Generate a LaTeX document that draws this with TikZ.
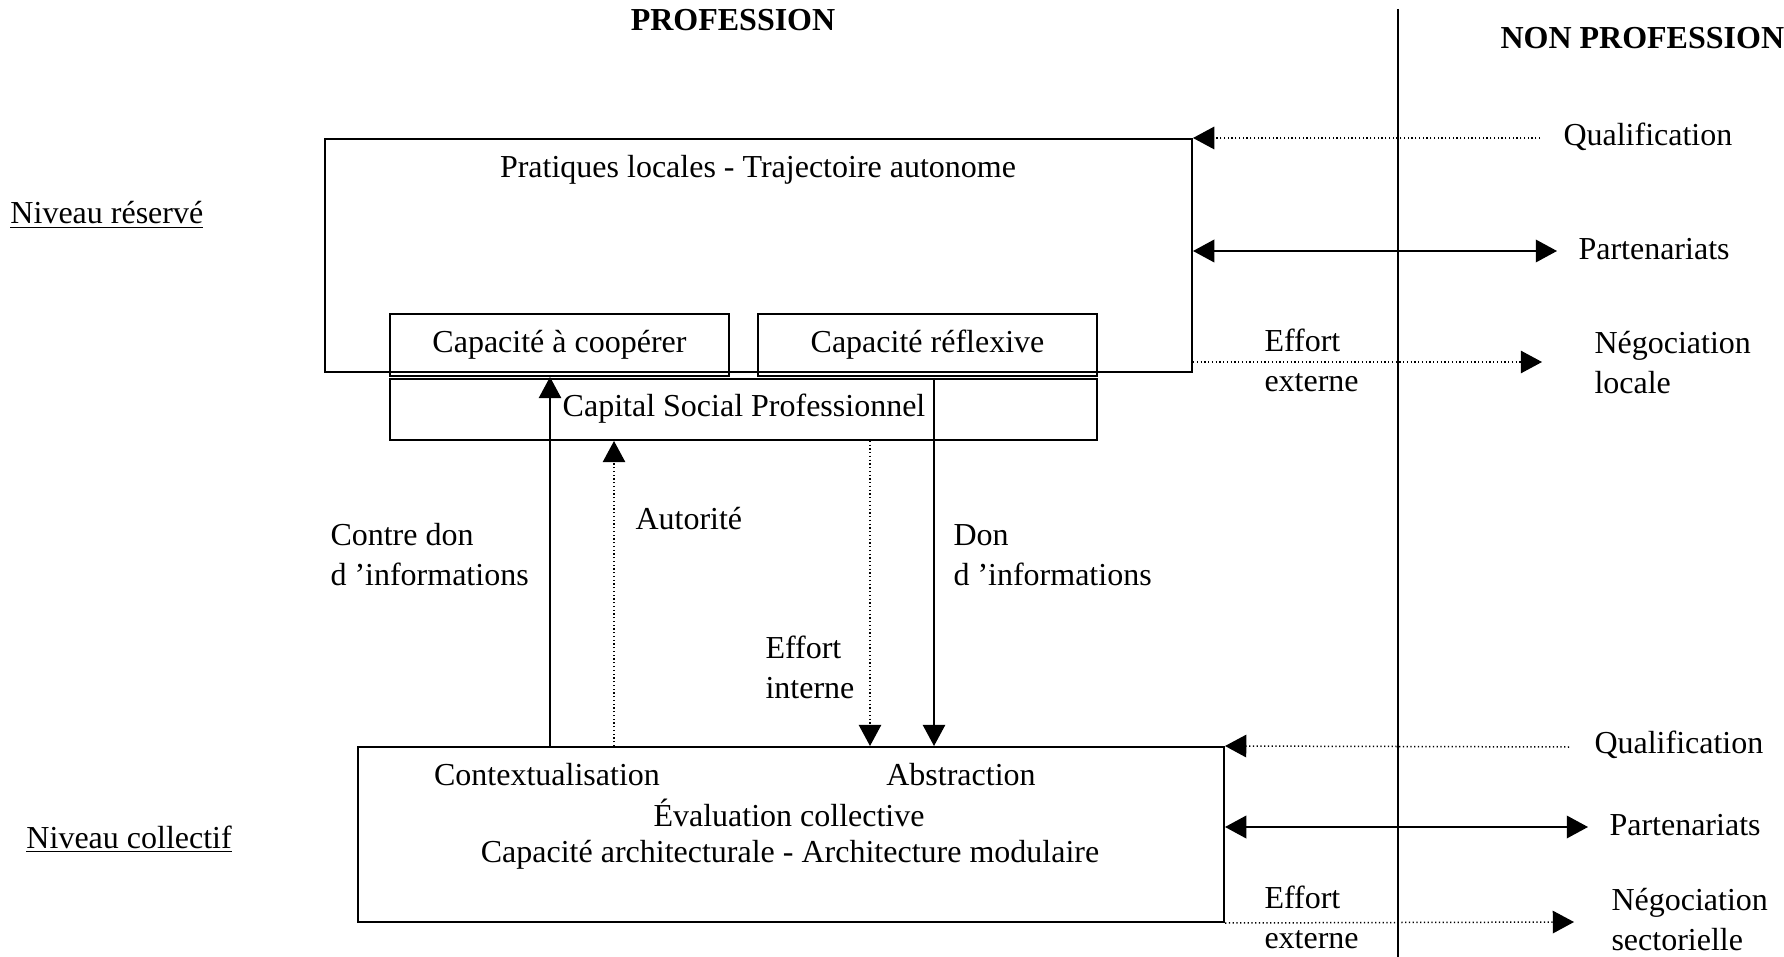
\documentclass[tikz,border=0pt]{standalone}
\usepackage{fontspec}
\setmainfont{Liberation Serif}
\usetikzlibrary{arrows.meta,fit}

\tikzset{
  box/.style={draw, line width=0.8pt, inner sep=0pt},
  txt/.style={inner sep=0pt, anchor=west, font=\fontsize{12.8}{16}\selectfont, align=left},
  ctxt/.style={inner sep=0pt, anchor=center, font=\fontsize{12.8}{16}\selectfont},
  head/.style={inner sep=0pt, font=\fontsize{12.8}{16}\selectfont\bfseries},
  tip/.style={-{Triangle[length=8.5pt,width=9pt]}},
  solidarr/.style={tip, line width=0.6pt},
  dotarr/.style={tip, line width=0.6pt, dash pattern=on 0.5pt off 1pt},
  twoarr/.style={{Triangle[length=8.5pt,width=9pt]}-{Triangle[length=8.5pt,width=9pt]}, line width=0.8pt},
  divider/.style={line width=0.8pt}
}

\begin{document}
\begin{tikzpicture}[x=0.4pt,y=-0.4pt]
\useasboundingbox (0,0) rectangle (1784,957);

% column headings and the divider between the two domains
\node[head] (prof) at (733,20) {PROFESSION};
\node[head, anchor=west] (nonprof) at (1500,38) {NON PROFESSION};
\coordinate (divtop) at (1398,9);
\coordinate (divbot) at (1398,957);
\draw[divider] (divtop) -- (divbot);

% level labels
\node[txt, anchor=base west] (nres) at (10,224) {\underline{Niveau réservé}};
\node[txt, anchor=base west] (ncol) at (26,848) {\underline{Niveau collectif}};

% reserved level: local practices and the two capacities
\coordinate (p1) at (325,139); \coordinate (p2) at (1192,372);
\node[box, fit=(p1)(p2)] (prat) {};
\node[ctxt] (pratlbl) at (758,170) {Pratiques locales - Trajectoire autonome};

\coordinate (c1) at (390,314); \coordinate (c2) at (729,376);
\node[box, fit=(c1)(c2)] (coop) {};
\node[ctxt] at (coop.center) {Capacité à coopérer};

\coordinate (r1) at (758,314); \coordinate (r2) at (1097,376);
\node[box, fit=(r1)(r2)] (refl) {};
\node[ctxt] at (refl.center) {Capacité réflexive};

\coordinate (s1) at (390,379); \coordinate (s2) at (1097,440);
\node[box, fit=(s1)(s2)] (capital) {};
\node[ctxt] (caplbl) at (744,409) {Capital Social Professionnel};

% collective level
\coordinate (l1) at (358,747); \coordinate (l2) at (1224,922);
\node[box, fit=(l1)(l2)] (coll) {};
\node[ctxt] (ctx) at (547,775) {Contextualisation};
\node[ctxt] (abs) at (961,775) {Abstraction};
\node[ctxt] (eval) at (789,813) {Évaluation collective};
\node[ctxt] (archi) at (790,855) {Capacité architecturale - Architecture modulaire};

% vertical exchanges between the two levels
\coordinate (xcd) at (550,0);
\coordinate (xau) at (614,0);
\coordinate (xei) at (870,0);
\coordinate (xdon) at (934,0);
\draw[solidarr] (coll.north -| xcd) -- (coop.south -| xcd);
\draw[dotarr] (coll.north -| xau) -- (capital.south -| xau);
\draw[dotarr] (capital.south -| xei) -- (coll.north -| xei);
\draw[solidarr] (capital.north -| xdon) -- (coll.north -| xdon);

\node[txt] (lcd) at (330,555) {Contre don\\d ’informations};
\node[txt] (lau) at (635,519) {Autorité};
\node[txt] (ldon) at (953,555) {Don\\d ’informations};
\node[txt] (lei) at (765,667) {Effort\\interne};

% exchanges with the outside, reserved level
\coordinate (qa) at (1540,138);
\coordinate (pa) at (1557,251);
\coordinate (ea) at (1542,362);
\draw[dotarr] (qa) -- (prat.north east);
\draw[twoarr] (prat.east |- pa) -- (pa);
\draw[dotarr] (prat.east |- ea) -- (ea);
\node[txt] (qla) at (1563,137) {Qualification};
\node[txt] (pla) at (1578,249) {Partenariats};
\node[txt] (ela) at (1264,360) {Effort\\externe};
\node[txt] (nla) at (1594,363) {Négociation\\locale};

% exchanges with the outside, collective level
\coordinate (qb) at (1569,747);
\coordinate (pb) at (1588,827);
\coordinate (eb) at (1574,922);
\draw[dotarr] (qb) -- (coll.north east);
\draw[twoarr] (coll.east |- pb) -- (pb);
\draw[dotarr] (coll.south east) -- (eb);
\node[txt] (qlb) at (1594,745) {Qualification};
\node[txt] (plb) at (1609,825) {Partenariats};
\node[txt] (elb) at (1264,917) {Effort\\externe};
\node[txt] (nlb) at (1611,920) {Négociation\\sectorielle};
\end{tikzpicture}
\end{document}
